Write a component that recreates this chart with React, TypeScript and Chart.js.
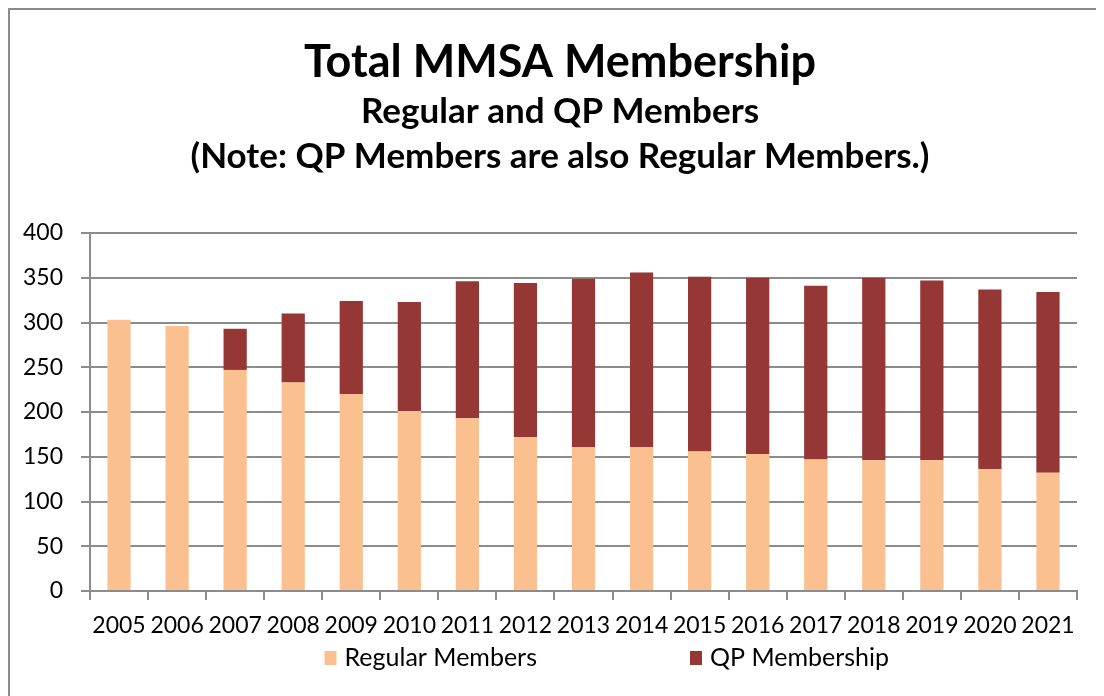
import React, { useEffect, useRef } from "react";
import { Chart, registerables } from "chart.js";

Chart.register(...registerables);

const years = ["2005", "2006", "2007", "2008", "2009", "2010", "2011", "2012", "2013", "2014", "2015", "2016", "2017", "2018", "2019", "2020", "2021"];
const regularMembers = [303, 296, 247, 233, 220, 201, 193, 172, 161, 161, 156, 153, 147, 146, 146, 136, 132];
const qpMembership = [0, 0, 46, 77, 104, 122, 153, 172, 188, 195, 195, 197, 194, 204, 201, 201, 202];
const seriesNames = ["Regular Members", "QP Membership"];
const titleText = "Total MMSA Membership";
const subtitleLines = ["Regular and QP Members", "(Note: QP Members are also Regular Members.)"];

const FONT = "Lato";
const GRID = "#8c8c8c";

const legendPlugin = {
  id: "customLegend",
  afterDraw(chart: any) {
    const ctx = chart.ctx;
    const positions = [314.5, 680];
    const yMid = 648;
    ctx.save();
    ctx.font = `25px ${FONT}`;
    ctx.textBaseline = "middle";
    ctx.textAlign = "left";
    chart.data.datasets.forEach((ds: any, i: number) => {
      const x = positions[i];
      ctx.fillStyle = ds.backgroundColor;
      ctx.fillRect(x, yMid - 7, 12, 14);
      ctx.fillStyle = "#000";
      ctx.fillText(ds.label, x + 20, yMid);
    });
    ctx.restore();
  },
};

// shift the title blocks so they are centred like the original
const titleShiftPlugin = {
  id: "titleShift",
  afterLayout(chart: any) {
    chart.boxes.forEach((box: any) => {
      if (box.position === "top" && box.axis === undefined) {
        box.left = 33;
      }
    });
  },
};

export default function App() {
  const ref = useRef<HTMLCanvasElement>(null);

  useEffect(() => {
    if (!ref.current) return;
    const chart = new Chart(ref.current, {
      type: "bar",
      data: {
        labels: years,
        datasets: [
          { label: seriesNames[0], data: regularMembers, backgroundColor: "#FAC090", borderWidth: 0, barPercentage: 0.4, categoryPercentage: 1 },
          { label: seriesNames[1], data: qpMembership, backgroundColor: "#953735", borderWidth: 0, barPercentage: 0.4, categoryPercentage: 1 },
        ],
      },
      plugins: [legendPlugin, titleShiftPlugin],
      options: {
        responsive: false,
        maintainAspectRatio: false,
        animation: false,
        layout: { padding: { top: 0, left: 0, right: 27, bottom: 55 } },
        plugins: {
          legend: { display: false },
          tooltip: { enabled: false },
          title: {
            display: true,
            text: titleText,
            color: "#000",
            font: { family: FONT, size: 45, weight: "bold", lineHeight: 1.2 },
            padding: { top: 25, bottom: 0 },
          },
          subtitle: {
            display: true,
            text: subtitleLines,
            color: "#000",
            font: { family: FONT, size: 35, weight: "bold", lineHeight: 45 / 35 },
            padding: { top: 0, bottom: 54 },
          },
        },
        scales: {
          x: {
            stacked: true,
            grid: { display: true, drawOnChartArea: false, drawTicks: true, tickLength: 9, offset: true, color: GRID, lineWidth: 2 },
            border: { display: true, color: GRID, width: 2 },
            ticks: { color: "#000", font: { family: FONT, size: 23 }, padding: 12, maxRotation: 0, minRotation: 0, autoSkip: false },
            afterFit: (scale: any) => { scale.height = 50; },
          },
          y: {
            stacked: true,
            min: 0,
            max: 400,
            grid: { color: GRID, lineWidth: 2, tickLength: 9, drawTicks: true },
            border: { display: true, color: GRID, width: 2 },
            ticks: { stepSize: 50, color: "#000", font: { family: FONT, size: 23 }, padding: 18 },
            afterFit: (scale: any) => { scale.width = 80; },
          },
        },
      },
    });
    return () => chart.destroy();
  }, []);

  return (
    <div
      style={{
        width: 1096,
        height: 688,
        boxSizing: "border-box",
        borderTop: "2px solid #8c8c8c",
        borderLeft: "2px solid #8c8c8c",
        background: "#fff",
        overflow: "hidden",
      }}
    >
      <canvas ref={ref} width={1094} height={686} style={{ display: "block" }} />
    </div>
  );
}
